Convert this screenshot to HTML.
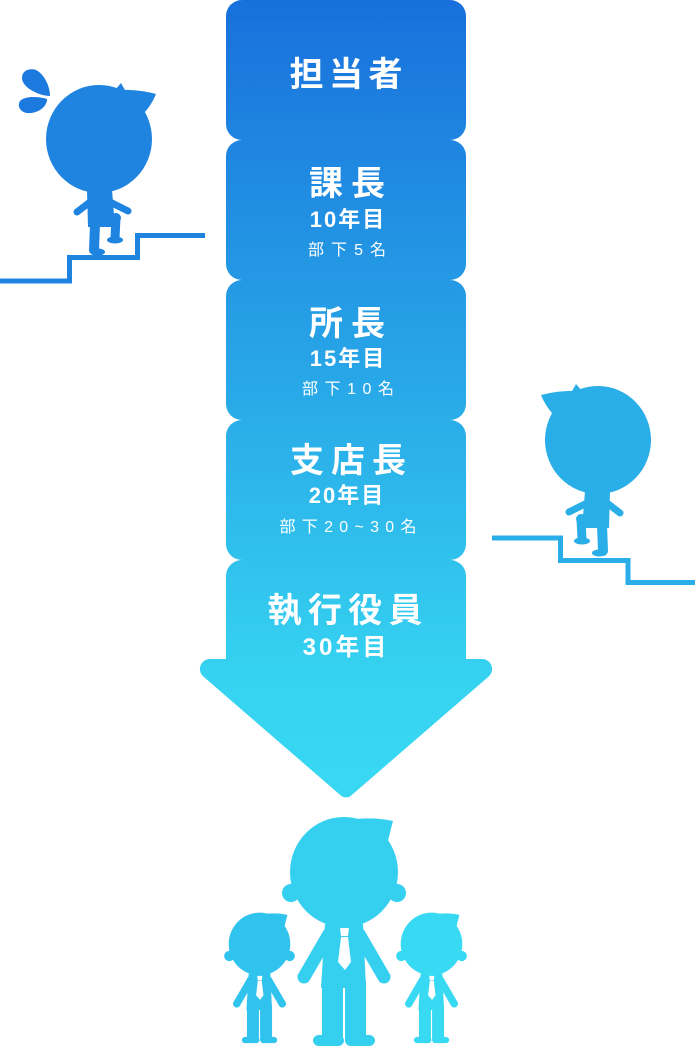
<!DOCTYPE html>
<html lang="ja">
<head>
<meta charset="utf-8">
<style>
  html,body{margin:0;padding:0;background:#fff;}
  svg{display:block;}
  text{font-family:"Liberation Sans","Noto Sans CJK JP",sans-serif;fill:#fff;}
  .t{font-size:34px;font-weight:700;}
  .y{font-size:22px;font-weight:700;letter-spacing:2px;}
  .s{font-size:16px;font-weight:400;}
</style>
</head>
<body>
<svg width="695" height="1048" viewBox="0 0 695 1048" xmlns="http://www.w3.org/2000/svg">
  <defs>
    <linearGradient id="g" gradientUnits="userSpaceOnUse" x1="0" y1="0" x2="0" y2="800">
      <stop offset="0" stop-color="#1870dc"/>
      <stop offset="0.5" stop-color="#29aae8"/>
      <stop offset="0.85" stop-color="#36d3f1"/>
      <stop offset="1" stop-color="#38d8f2"/>
    </linearGradient>

    <!-- climber figure (left version coordinates) -->
    <g id="climber">
      <ellipse cx="99" cy="139" rx="53" ry="54"/>
      <path d="M116,90 Q138,89 156,94 Q152,104 145,112 L122,100 Z"/>
      <path d="M115,90 L121,83 L126,92 Z"/>
      <path d="M87,190 L112,190 L115,227 L88,227 Z"/>
      <line x1="90" y1="202" x2="77" y2="212" stroke-width="7" stroke-linecap="round" stroke="currentColor"/>
      <line x1="110" y1="202" x2="128" y2="211" stroke-width="7" stroke-linecap="round" stroke="currentColor"/>
      <line x1="95" y1="224" x2="94" y2="250" stroke-width="10" stroke-linecap="round" stroke="currentColor"/>
      <ellipse cx="98" cy="252" rx="7" ry="3.5"/>
      <line x1="105" y1="222" x2="116" y2="218" stroke-width="10" stroke-linecap="round" stroke="currentColor"/>
      <line x1="116" y1="218" x2="115" y2="238" stroke-width="9" stroke-linecap="round" stroke="currentColor"/>
      <ellipse cx="115" cy="240" rx="8" ry="3.5"/>
    </g>

    <!-- man figure (big man coordinates) -->
    <g id="man">
      <ellipse cx="344" cy="872" rx="54" ry="55"/>
      <circle cx="291" cy="893" r="9"/>
      <circle cx="397" cy="893" r="9"/>
      <path d="M356,819 Q376,817 393,821 Q390,832 387,845 L362,834 Z"/>
      <path d="M325,924 L363,924 L366,988 L321,988 Z"/>
      <line x1="329" y1="934" x2="304" y2="977" stroke-width="13" stroke-linecap="round" stroke="currentColor"/>
      <line x1="359" y1="934" x2="384" y2="977" stroke-width="13" stroke-linecap="round" stroke="currentColor"/>
      <rect x="322" y="980" width="21" height="60"/>
      <rect x="345" y="980" width="21" height="60"/>
      <rect x="313" y="1035" width="31" height="11" rx="6"/>
      <rect x="345" y="1035" width="30" height="11" rx="6"/>
      <path d="M340,928 L349,928 L348,936 L341,936 Z" fill="#fff"/>
      <path d="M341,937 L348,937 L351,962 L345,970 L338,962 Z" fill="#fff"/>
    </g>
  </defs>

  <!-- main column -->
  <rect x="226" y="0" width="240" height="140" rx="16" fill="url(#g)"/>
  <rect x="226" y="140" width="240" height="140" rx="16" fill="url(#g)"/>
  <rect x="226" y="280" width="240" height="140" rx="16" fill="url(#g)"/>
  <rect x="226" y="420" width="240" height="140" rx="16" fill="url(#g)"/>
  <path fill="url(#g)" d="M226,576 A16,16 0 0 1 242,560 L450,560 A16,16 0 0 1 466,576 L466,659 L482.2,659 A10,10 0 0 1 488.7,676.5 L351.2,795.5 A8,8 0 0 1 340.8,795.5 L203.3,676.5 A10,10 0 0 1 209.8,659 L226,659 Z"/>

  <!-- labels -->
  <text class="t" x="346" y="86" text-anchor="middle" textLength="113" lengthAdjust="spacing">担当者</text>

  <text class="t" x="347" y="195" text-anchor="middle" textLength="76" lengthAdjust="spacing">課長</text>
  <text class="y" x="348" y="227" text-anchor="middle">10年目</text>
  <text class="s" x="347" y="255" text-anchor="middle" textLength="78" lengthAdjust="spacing">部下5名</text>

  <text class="t" x="347" y="335" text-anchor="middle" textLength="76" lengthAdjust="spacing">所長</text>
  <text class="y" x="348" y="366" text-anchor="middle">15年目</text>
  <text class="s" x="348" y="394" text-anchor="middle" textLength="92" lengthAdjust="spacing">部下10名</text>

  <text class="t" x="348" y="472" text-anchor="middle" textLength="116" lengthAdjust="spacing">支店長</text>
  <text class="y" x="347" y="503" text-anchor="middle">20年目</text>
  <text class="s" x="348" y="532" text-anchor="middle" textLength="137" lengthAdjust="spacing">部下20~30名</text>

  <text class="t" x="345" y="622" text-anchor="middle" textLength="155" lengthAdjust="spacing">執行役員</text>
  <text class="y" x="346" y="655" text-anchor="middle" style="font-size:24px;letter-spacing:3px">30年目</text>

  <!-- left climber + stairs -->
  <polyline points="0,281 69.5,281 69.5,257.5 137.5,257.5 137.5,235.5 205,235.5" fill="none" stroke="#1f84e0" stroke-width="5"/>
  <use href="#climber" fill="#1f84e0" color="#1f84e0"/>
  <path fill="#1c79de" d="M50,96 C40,96 22,88 22,78 C22,70 30,68 36,70 C44,74 50,86 50,96 Z"/>
  <path fill="#1c79de" d="M47,99 C47,108 36,114 27,113 C20,112 17,106 20,101 C24,96 38,96 47,99 Z"/>

  <!-- right climber + stairs (mirrored) -->
  <polyline points="492,538 560.5,538 560.5,560.5 628,560.5 628,582.5 695,582.5" fill="none" stroke="#2aaee8" stroke-width="5"/>
  <use href="#climber" transform="translate(697,301) scale(-1,1)" fill="#2aaee8" color="#2aaee8"/>

  <!-- bottom group -->
  <use href="#man" transform="translate(259.5,944) scale(0.57) translate(-344,-872)" fill="#30c3ee" color="#30c3ee"/>
  <use href="#man" transform="translate(431.5,944) scale(0.57) translate(-344,-872)" fill="#38d9f2" color="#38d9f2"/>
  <use href="#man" fill="#35cff0" color="#35cff0"/>
</svg>
</body>
</html>
